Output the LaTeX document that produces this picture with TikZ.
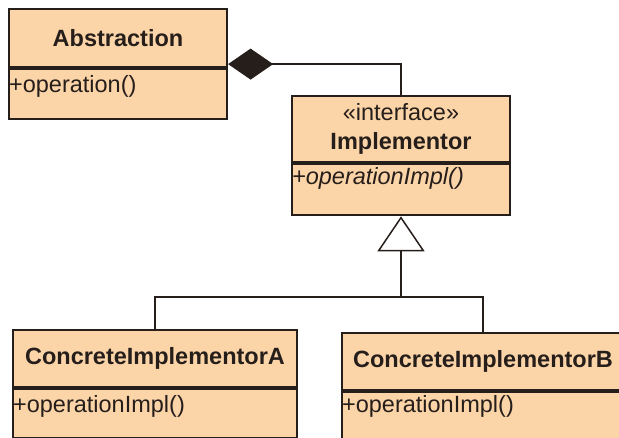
\documentclass[tikz,border=0pt]{standalone}
\usepackage{fontspec}
\setmainfont{Liberation Sans}
\usetikzlibrary{arrows.meta}
\definecolor{umlfill}{RGB}{251,212,168}
\definecolor{umlline}{RGB}{38,30,26}
\tikzset{
	classbox/.style={draw=umlline, fill=umlfill, line width=2.2pt, inner sep=0pt, text=umlline, align=center, font=\fontsize{23.5}{29}\selectfont},
	member/.style={anchor=west, inner sep=1pt, text=umlline, font=\fontsize{23.5}{29}\selectfont},
	link/.style={draw=umlline, line width=1.5pt},
}

\begin{document}
\begin{tikzpicture}[x=1pt, y=-1pt]
			%%%%% START %%%%%
			\useasboundingbox (0, 0) rectangle (619, 437);
			\clip (0, 0) rectangle (619, 437);
			
			% Abstraction
			\node[classbox, minimum width=218pt, minimum height=58pt] (abshead) at (118, 38) {\textbf{Abstraction}};
			\node[classbox, minimum width=218pt, minimum height=50pt, anchor=north] (absbody) at (abshead.south) {};
			\node[member] (absop) at ([yshift=-18pt]absbody.north west) {+operation()};
			
			% Implementor
			\node[classbox, minimum width=218pt, minimum height=66pt] (implhead) at (401, 129) {«interface»\\\textbf{Implementor}};
			\node[classbox, minimum width=218pt, minimum height=51pt, anchor=north] (implbody) at (implhead.south) {};
			\node[member] (implop) at ([yshift=-15pt]implbody.north west) {\textit{+operationImpl()}};
			
			% ConcreteImplementorA
			\node[classbox, minimum width=284pt, minimum height=57pt] (conAhead) at (155, 358.5) {\textbf{ConcreteImplementorA}};
			\node[classbox, minimum width=284pt, minimum height=49pt, anchor=north] (conAbody) at (conAhead.south) {};
			\node[member] (conAop) at ([yshift=-18pt]conAbody.north west) {+operationImpl()};
			
			% ConcreteImplementorB
			\node[classbox, minimum width=282pt, minimum height=57pt] (conBhead) at (483, 361.5) {\textbf{ConcreteImplementorB}};
			\node[classbox, minimum width=282pt, minimum height=52pt, anchor=north] (conBbody) at (conBhead.south) {};
			\node[member] (conBop) at ([yshift=-15pt]conBbody.north west) {+operationImpl()};
			
			% connectors
			\coordinate (fork) at (401, 297);
			\draw[link, -{Triangle[open, length=35pt, width=47pt, line width=1.5pt]}] (fork) -- (implbody.south);
			\draw[link] (conAhead.north) |- (fork) -| (conBhead.north);
			\draw[link, {Diamond[length=45pt, width=31pt]}-] ([yshift=4pt]abshead.south east) -| (implhead.north);
			
			%%%%% END %%%%%
		\end{tikzpicture}
\end{document}
